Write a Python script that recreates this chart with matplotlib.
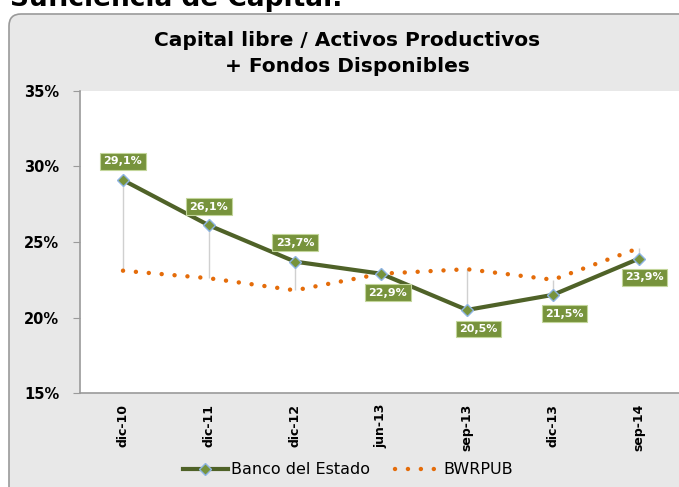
import matplotlib
matplotlib.use("Agg")
import matplotlib.pyplot as plt
from matplotlib.patches import FancyBboxPatch
from matplotlib.ticker import FuncFormatter

categories = ["dic-10", "dic-11", "dic-12", "jun-13", "sep-13", "dic-13", "sep-14"]
banco_estado = [29.1, 26.1, 23.7, 22.9, 20.5, 21.5, 23.9]
bwrpub = [23.1, 22.6, 21.8, 22.9, 23.2, 22.5, 24.6]
banco_labels = ["29,1%", "26,1%", "23,7%", "22,9%", "20,5%", "21,5%", "23,9%"]
y_ticks = [15, 20, 25, 30, 35]

# label offsets in points (above for the first three, below-right for the rest)
label_offsets = [(0, 10), (0, 10), (0, 10), (5, -10), (8, -10), (8, -10), (4, -10)]

fig = plt.figure(figsize=(6.79, 4.87), dpi=100)
fig.patch.set_facecolor("white")

# chart frame with rounded corners
frame = FancyBboxPatch((0.09, -0.2), 7.2, 4.93,
                       boxstyle="round,pad=0,rounding_size=0.12",
                       fc="#e8e8e8", ec="#9a9a9a", lw=1.2,
                       transform=fig.dpi_scale_trans, zorder=0)
fig.add_artist(frame)

fig.text(0.015, 1 - 6 / 487, "Suficiencia de Capital.", fontsize=19, fontweight="bold",
         ha="left", va="baseline", color="black")

fig.text(347 / 679, 1 - 40 / 487, "Capital libre / Activos Productivos",
         fontsize=14.5, fontweight="bold", ha="center", va="center", color="black")
fig.text(347 / 679, 1 - 67 / 487, "+ Fondos Disponibles",
         fontsize=14.5, fontweight="bold", ha="center", va="center", color="black")

ax = fig.add_axes([80 / 679, 94 / 487, 602 / 679, 302 / 487])
ax.set_facecolor("white")
x = list(range(len(categories)))

# high-low lines between the two series
ax.vlines(x, bwrpub, banco_estado, colors="#d0d0d0", lw=1, zorder=1)

ax.plot(x, bwrpub, color="#e46c0a", lw=3.2, linestyle=(0, (0.01, 2.9)),
        dash_capstyle="round", label="BWRPUB", zorder=2)
ax.plot(x, banco_estado, color="#4f6228", lw=3, marker="D", markersize=6.5,
        markerfacecolor="#77933c", markeredgecolor="#8eb4e3", markeredgewidth=1,
        label="Banco del Estado", zorder=3)

for xi, yi, txt, off in zip(x, banco_estado, banco_labels, label_offsets):
    ax.annotate(txt, (xi, yi), xytext=off, textcoords="offset points",
                ha="center", va="bottom" if off[1] > 0 else "top",
                fontsize=8, fontweight="bold", color="white", zorder=4,
                bbox=dict(boxstyle="square,pad=0.3", fc="#77933c", ec="#c3d69b", lw=0.8))

ax.set_xlim(-0.5, len(categories) - 0.5)
ax.set_ylim(15, 35)
ax.set_yticks(y_ticks)
ax.yaxis.set_major_formatter(FuncFormatter(lambda v, p: f"{v:.0f}%"))
ax.set_xticks(x)
ax.set_xticklabels(categories, rotation=90, fontsize=9, fontweight="bold")
for lab in ax.get_yticklabels():
    lab.set_fontweight("bold")
    lab.set_fontsize(10.5)
ax.tick_params(axis="y", length=5, color="#9a9a9a", pad=10)
ax.tick_params(axis="x", length=0, pad=8)

for side in ["top", "right"]:
    ax.spines[side].set_visible(False)
for side in ["left", "bottom"]:
    ax.spines[side].set_color("#9a9a9a")
    ax.spines[side].set_linewidth(1.2)

handles, labels = ax.get_legend_handles_labels()
fig.legend(handles[::-1], labels[::-1], loc="center", bbox_to_anchor=(348 / 679, 17 / 487),
           ncol=2, frameon=False, fontsize=11.5, handlelength=2.8, handletextpad=0.2,
           columnspacing=1.6)

fig.savefig("out.png", dpi=100)
